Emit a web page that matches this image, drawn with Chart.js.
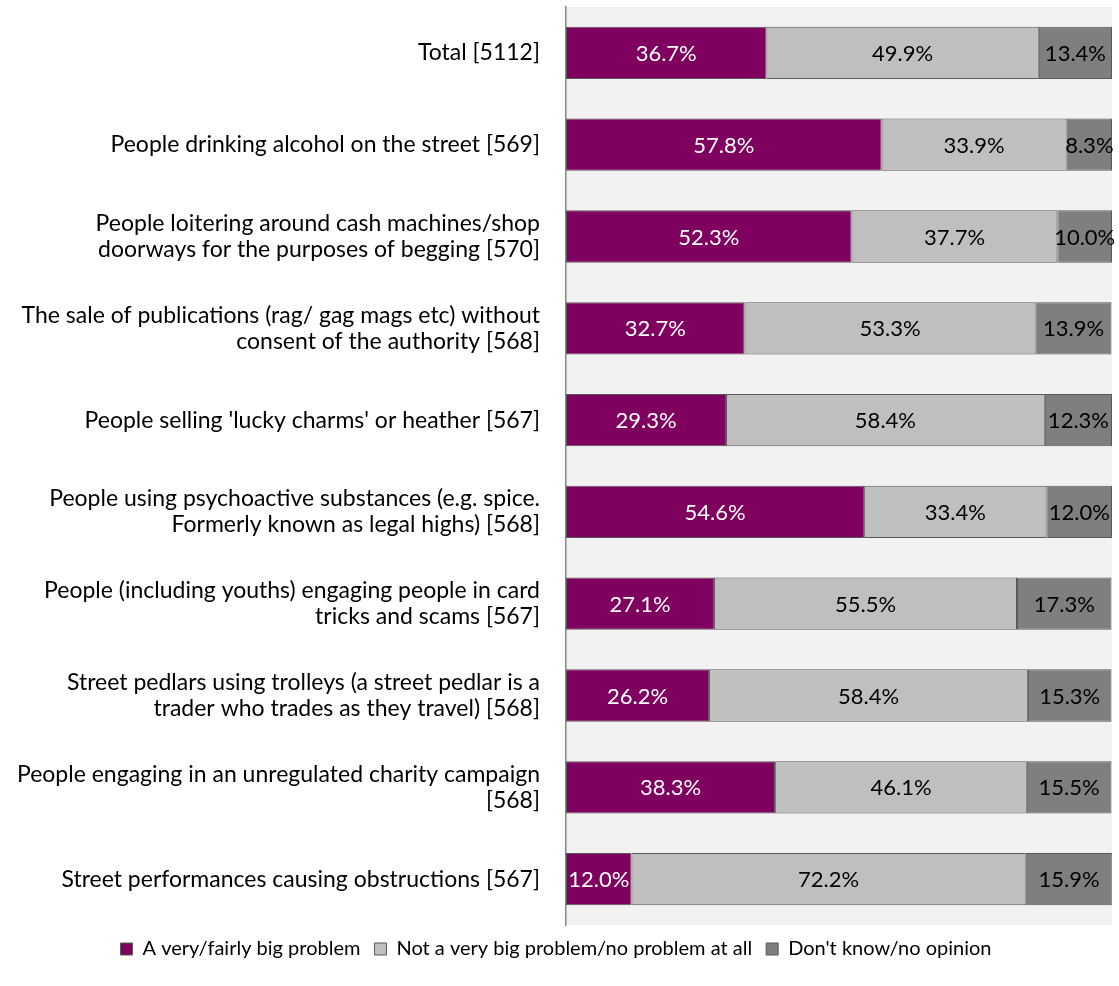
<!DOCTYPE html>
<html>
<head>
<meta charset="utf-8">
<script src="https://cdn.jsdelivr.net/npm/chart.js@4.4.1/dist/chart.umd.min.js"></script>
<style>
  html, body { margin: 0; padding: 0; background: #fff; }
  #wrap { width: 1119px; height: 986px; }
</style>
</head>
<body>
<div id="wrap"><canvas id="chart"></canvas></div>
<script>
const categories = [
    'Total [5112]',
    'People drinking alcohol on the street [569]',
    ['People loitering around cash machines/shop', 'doorways for the purposes of begging [570]'],
    ['The sale of publications (rag/ gag mags etc) without', 'consent of the authority [568]'],
    "People selling 'lucky charms' or heather [567]",
    ['People using psychoactive substances (e.g. spice.', 'Formerly known as legal highs) [568]'],
    ['People (including youths) engaging people in card', 'tricks and scams [567]'],
    ['Street pedlars using trolleys (a street pedlar is a', 'trader who trades as they travel) [568]'],
    ['People engaging in an unregulated charity campaign', '[568]'],
    'Street performances causing obstructions [567]'
];
const bigProblem = [36.7, 57.8, 52.3, 32.7, 29.3, 54.6, 27.1, 26.2, 38.3, 12.0];
const notProblem = [49.9, 33.9, 37.7, 53.3, 58.4, 33.4, 55.5, 58.4, 46.1, 72.2];
const dontKnow   = [13.4, 8.3, 10.0, 13.9, 12.3, 12.0, 17.3, 15.3, 15.5, 15.9];
const seriesNames = ['A very/fairly big problem', 'Not a very big problem/no problem at all', "Don't know/no opinion"];

const FONT = 'Lato';

// light grey plot background
const plotBg = {
    id: 'plotBg',
    beforeDraw(chart) {
        const { ctx, chartArea: a } = chart;
        ctx.save();
        ctx.fillStyle = '#f2f2f2';
        ctx.fillRect(a.left, a.top, a.right - a.left, a.bottom - a.top);
        ctx.restore();
    }
};

// percentage labels centred in each segment
const barLabels = {
    id: 'barLabels',
    afterDatasetsDraw(chart) {
        const ctx = chart.ctx;
        ctx.save();
        ctx.font = `22px ${FONT}`;
        ctx.textAlign = 'center';
        ctx.textBaseline = 'middle';
        chart.data.datasets.forEach((ds, i) => {
            const meta = chart.getDatasetMeta(i);
            meta.data.forEach((bar, j) => {
                ctx.fillStyle = i === 0 ? '#ffffff' : '#000000';
                ctx.fillText(ds.data[j].toFixed(1) + '%', (bar.x + bar.base) / 2, bar.y + 1);
            });
        });
        ctx.restore();
    }
};

new Chart(document.getElementById('chart'), {
    type: 'bar',
    data: {
        labels: categories,
        datasets: [
            { label: seriesNames[0], data: bigProblem, backgroundColor: '#800060' },
            { label: seriesNames[1], data: notProblem, backgroundColor: '#bfbfbf' },
            { label: seriesNames[2], data: dontKnow, backgroundColor: '#7f7f7f' }
        ].map(d => Object.assign(d, {
            borderColor: '#595959',
            borderWidth: 1,
            borderSkipped: false,
            barPercentage: 0.57,
            categoryPercentage: 1
        }))
    },
    options: {
        indexAxis: 'y',
        responsive: true,
        maintainAspectRatio: false,
        animation: false,
        layout: { padding: { top: 7, right: 7, bottom: 17, left: 0 } },
        plugins: {
            legend: {
                position: 'bottom',
                labels: {
                    font: { family: FONT, size: 20 },
                    color: '#000',
                    boxWidth: 12,
                    boxHeight: 12,
                    padding: 14
                }
            },
            tooltip: { enabled: false }
        },
        scales: {
            x: { stacked: true, display: false, min: 0, max: 100 },
            y: {
                stacked: true,
                grid: { display: false },
                border: { display: true, color: '#868686', width: 1.5 },
                ticks: {
                    font: { family: FONT, size: 23, lineHeight: 1.13 },
                    color: '#000',
                    padding: 18
                },
                afterFit(scale) {
                    scale.width = 566;
                    scale.paddingTop = 0;
                    scale.paddingBottom = 0;
                }
            }
        }
    },
    plugins: [plotBg, barLabels]
});
</script>
</body>
</html>
